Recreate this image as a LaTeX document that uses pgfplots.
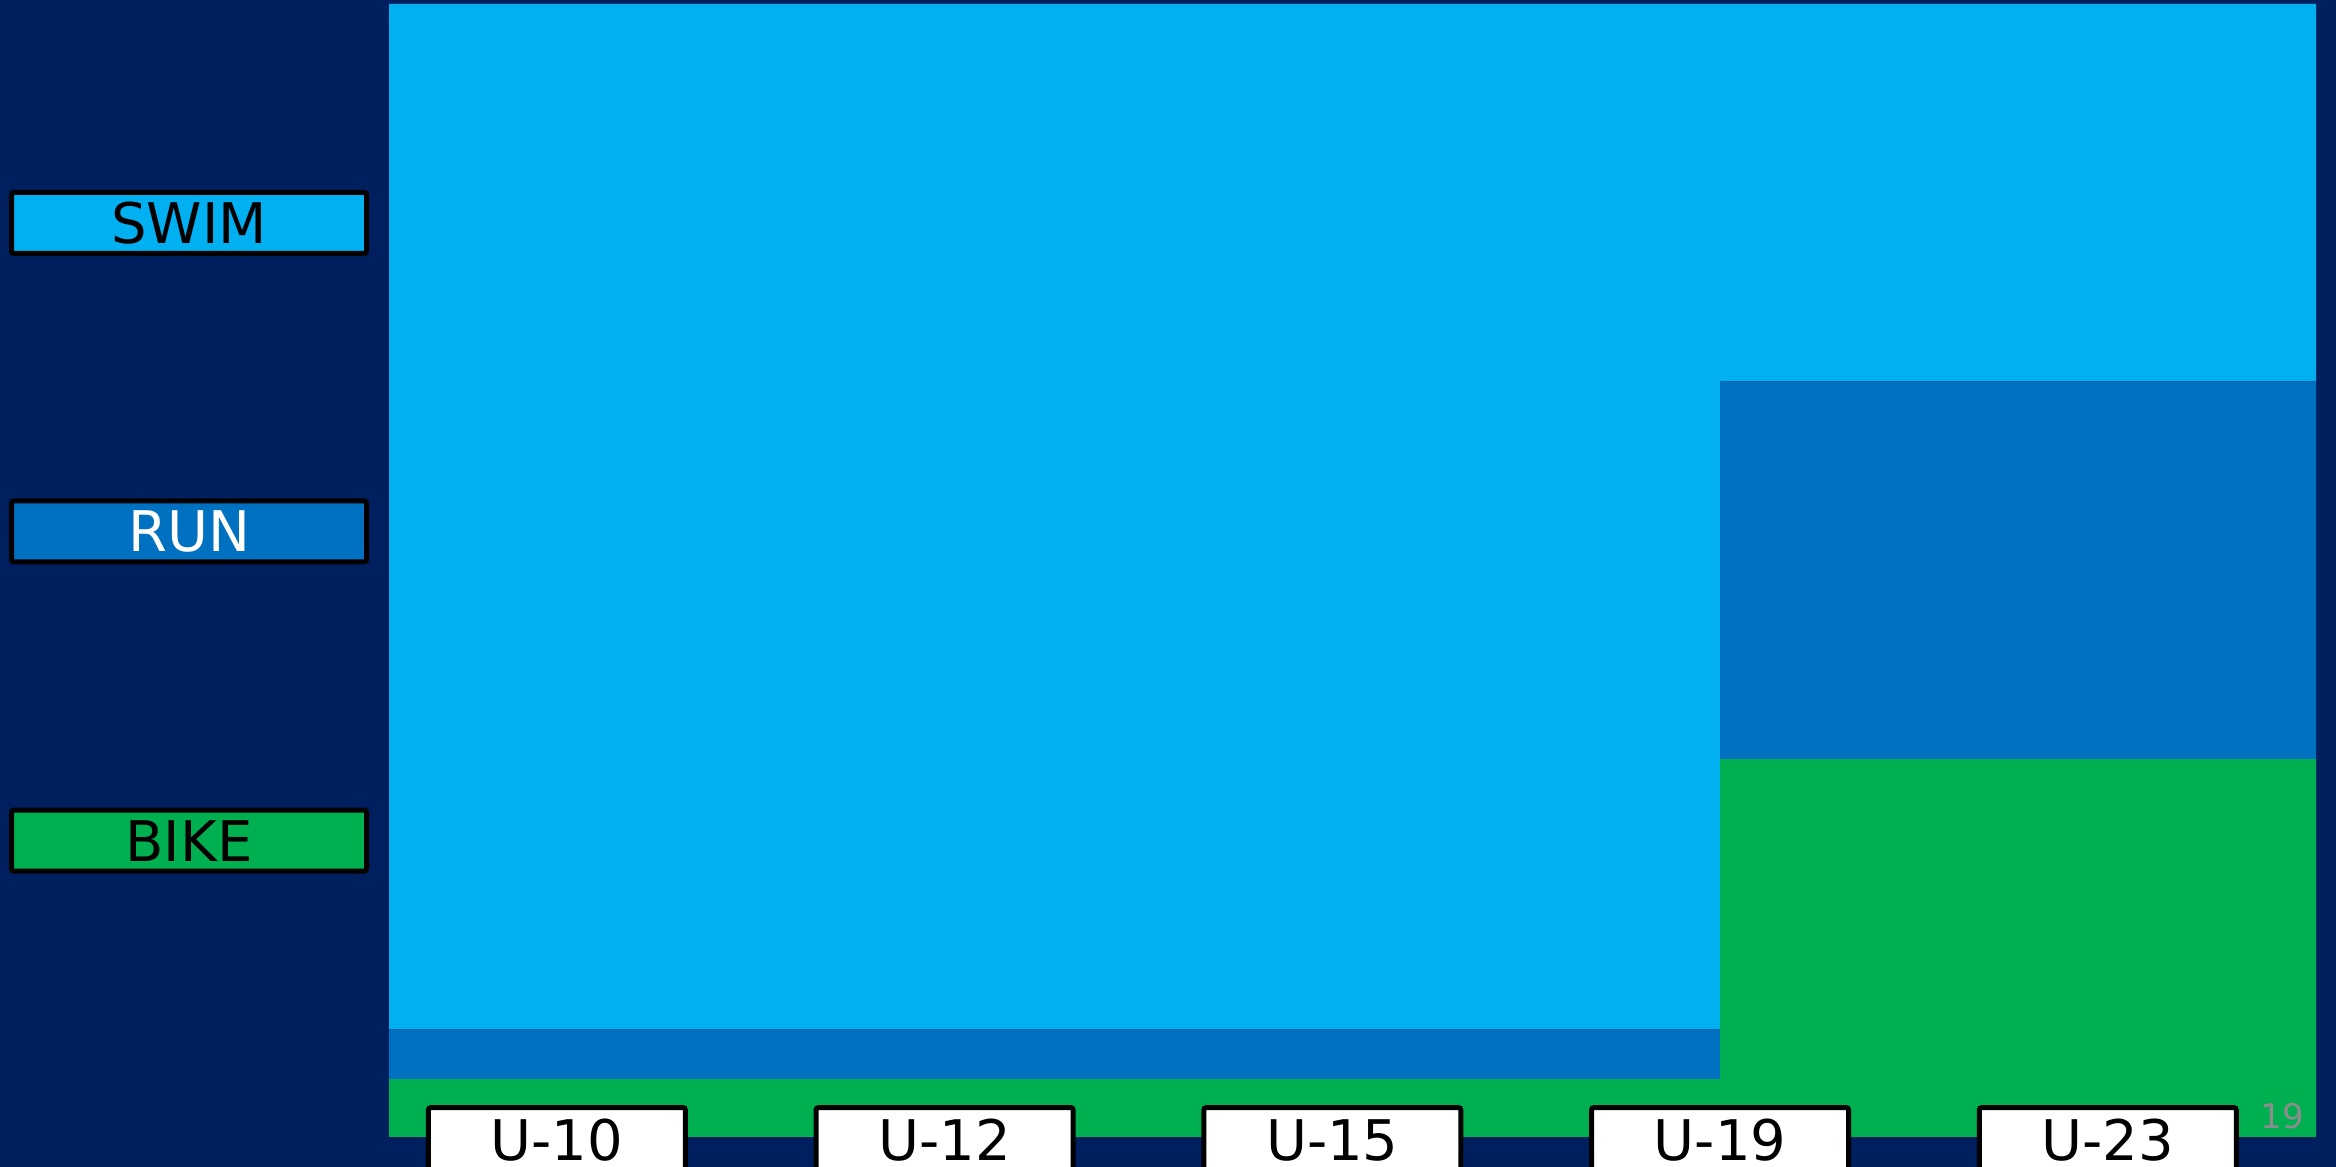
\documentclass[border=0pt]{standalone}
\usepackage{pgfplots}
\pgfplotsset{compat=1.18}
\usepackage{fontspec}
\setmainfont{DejaVu Sans}
\definecolor{navy}{HTML}{001F5F}
\definecolor{swim}{HTML}{00B0F0}
\definecolor{run}{HTML}{0070C0}
\definecolor{bike}{HTML}{00B050}
\definecolor{pnum}{HTML}{8C8C8C}
\tikzset{catbox/.style={draw=black, line width=1.25pt, fill=white,
    minimum width=64.25pt, minimum height=16.5pt, inner sep=0pt,
    anchor=center, yshift=-0.9pt, rounded corners=0.6pt,
    text=black, font=\fontsize{14}{16}\selectfont},
  lbl/.style={draw=black, line width=1.25pt, minimum width=88.75pt,
  minimum height=15.25pt, inner sep=0pt, rounded corners=0.6pt,
  font=\fontsize{14}{16}\selectfont}}
\begin{document}
\begin{tikzpicture}[x=1pt,y=1pt]
\useasboundingbox (0,0) rectangle (584,291.75);
\clip (0,0) rectangle (584,291.75);
\fill[navy] (0,0) rectangle (584,291.75);
\begin{axis}[
  at={(97.25pt,7.5pt)}, anchor=south west,
  scale only axis, width=481.75pt, height=283.25pt,
  xmin=-0.433, xmax=4.537, ymin=0, ymax=100,
  enlargelimits=false, clip=false,
  stack plots=y,
  axis line style={draw=none},
  major tick length=0pt,
  xtick=\empty, ytick=\empty,
]
\addplot[fill=bike, draw=none] coordinates {(-0.433,5.1) (3,5.1) (3,33.35) (4.537,33.35)} \closedcycle;
\addplot[fill=run, draw=none] coordinates {(-0.433,4.4) (3,4.4) (3,33.35) (4.537,33.35)} \closedcycle;
\addplot[fill=swim, draw=none] coordinates {(-0.433,90.5) (3,90.5) (3,33.3) (4.537,33.3)} \closedcycle;
\coordinate (c0) at (axis cs:0,0);
\coordinate (c1) at (axis cs:1,0);
\coordinate (c2) at (axis cs:2,0);
\coordinate (c3) at (axis cs:3,0);
\coordinate (c4) at (axis cs:4,0);
\end{axis}
\node[catbox] at (c0) {U-10};
\node[catbox] at (c1) {U-12};
\node[catbox] at (c2) {U-15};
\node[catbox] at (c3) {U-19};
\node[catbox] at (c4) {U-23};
\node[lbl, fill=swim, text=black] at (47.25,236) {SWIM};
\node[lbl, fill=run, text=white] at (47.25,158.9) {RUN};
\node[lbl, fill=bike, text=black] at (47.25,81.6) {BIKE};
\node[text=pnum, font=\fontsize{8.5}{10}\selectfont, inner sep=0pt] at (570.5,12.75) {19};
\end{tikzpicture}
\end{document}
